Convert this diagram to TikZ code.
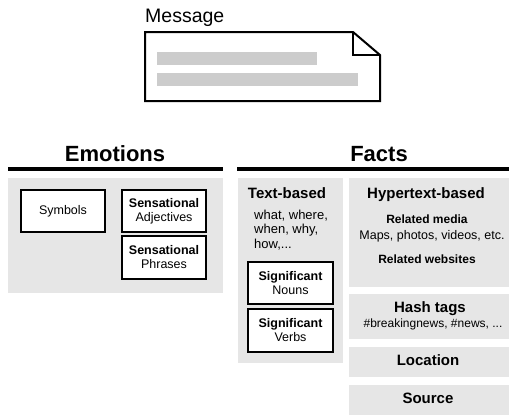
\documentclass[tikz,border=0pt]{standalone}
\usepackage{fontspec}
\setmainfont{Liberation Sans}
\definecolor{panelgray}{HTML}{E6E6E6}
\definecolor{bargray}{HTML}{CCCCCC}
\tikzset{
	panel/.style={fill=panelgray},
	item/.style={draw,line width=2pt,fill=white,minimum width=84pt,minimum height=42pt,inner sep=0pt,align=center,font=\fontsize{12.5}{14}\selectfont},
	title/.style={anchor=base,font=\bfseries\fontsize{22}{26}\selectfont},
	heading/.style={anchor=base,font=\bfseries\fontsize{15}{18}\selectfont},
	small/.style={anchor=base,font=\fontsize{12.5}{14}\selectfont},
	smallbold/.style={anchor=base,font=\bfseries\fontsize{12}{14}\selectfont}
}
\begin{document}
\begin{tikzpicture}[x=1pt,y=-1pt]
	\useasboundingbox (0,0) rectangle (509,415);
	% message sheet with folded corner
	\node[anchor=base west,inner sep=0pt,font=\fontsize{19.5}{22}\selectfont] (msg) at (145,22) {Message};
	\draw[line width=2pt,fill=white,line join=miter] (145,32) -- (353,32) -- (380,55) -- (380,101) -- (145,101) -- cycle;
	\draw[line width=2pt] (353,32) -- (353,55) -- (380,55);
	\fill[bargray] (157,52) rectangle (317,65);
	\fill[bargray] (157,73) rectangle (358,86);
	% emotions
	\node[title] (emo) at (115,161) {Emotions};
	\coordinate (emoL) at (8,169);
	\coordinate (emoR) at (223,169);
	\draw[line width=4pt] (emoL) -- (emoR);
	\fill[panel] (8,178) rectangle (223,293);
	\node[item] (sym) at (63,211) {Symbols};
	\node[item] (adj) at (164,211) {\textbf{Sensational}\\Adjectives};
	\node[item,minimum height=43pt] (phr) at (164,257.5) {\textbf{Sensational}\\Phrases};
	% facts
	\node[title] (facts) at (379,161) {Facts};
	\coordinate (factL) at (237,169);
	\coordinate (factR) at (509,169);
	\draw[line width=4pt] (factL) -- (factR);
	\fill[panel] (238,178) rectangle (343,363);
	\fill[panel] (349,178) rectangle (509,287);
	\fill[panel] (349,294) rectangle (509,339);
	\fill[panel] (349,347) rectangle (509,377);
	\fill[panel] (349,385) rectangle (509,415);
	\node[heading] (txt) at (287,198) {Text-based};
	% base of a multi-line node is the last line
	\node[anchor=base west,inner sep=0pt,align=left,font=\fontsize{13}{14.5}\selectfont] (wh) at (254,248) {what, where,\\when, why,\\how,...};
	\node[item,minimum width=85pt] (nouns) at (290.5,283) {\textbf{Significant}\\Nouns};
	\node[item,minimum width=85pt,minimum height=43pt] (verbs) at (290.5,330.5) {\textbf{Significant}\\Verbs};
	\node[heading] (hyp) at (426,198) {Hypertext-based};
	\node[smallbold] (media) at (427,223) {Related media};
	\node[small] (maps) at (432,239) {Maps, photos, videos, etc.};
	\node[smallbold] (webs) at (427,263) {Related websites};
	\node[heading] (hash) at (430,312) {Hash tags};
	\node[small,font=\fontsize{12}{14}\selectfont] (tags) at (433,327) {\#breakingnews, \#news, ...};
	\node[heading] (loc) at (428,365) {Location};
	\node[heading] (src) at (428,403) {Source};
\end{tikzpicture}
\end{document}
